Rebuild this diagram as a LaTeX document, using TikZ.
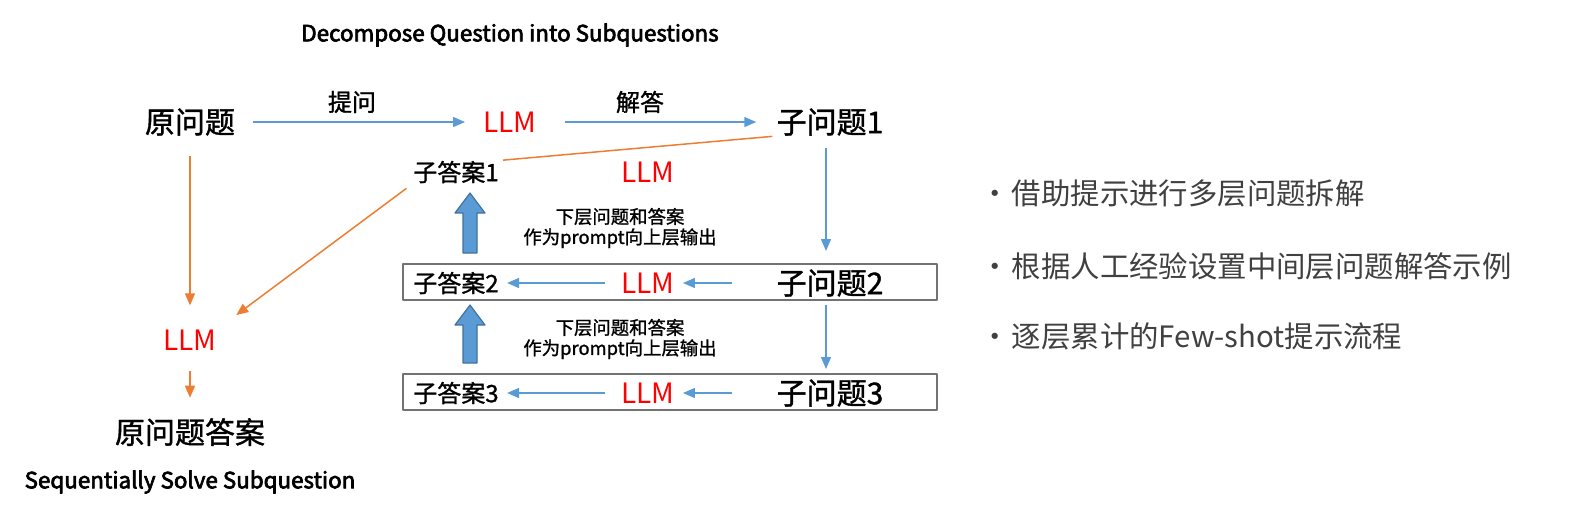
\documentclass[tikz,border=0pt]{standalone}
\usepackage{fontspec}
\setmainfont{Noto Sans CJK SC}
\newfontfamily\heavyfont[FakeBold=1.2]{Noto Sans CJK SC}
\newfontfamily\headfont[FakeBold=3]{Noto Sans CJK SC}
\usetikzlibrary{arrows.meta,calc}
\definecolor{llmred}{RGB}{255,0,0}
\definecolor{flowblue}{RGB}{91,155,213}
\definecolor{floworange}{RGB}{237,125,49}
\definecolor{blockedge}{RGB}{65,113,156}
\definecolor{tipgray}{RGB}{64,64,64}
\newcommand{\fsz}[1]{\fontsize{#1}{#1}\selectfont}
% fat arrow pointing up: x, bottom y, top y
\newcommand{\upblock}[3]{%
  \filldraw[fill=flowblue,draw=blockedge,line width=0.6pt]
    (#1-7,#2) -- (#1-7,#3+20) -- (#1-15,#3+20) -- (#1,#3)
    -- (#1+15,#3+20) -- (#1+7,#3+20) -- (#1+7,#2) -- cycle;}

\begin{document}
\begin{tikzpicture}[x=0.5pt,y=-0.5pt,line join=round,
  >={Triangle[length=6pt,width=5pt]},
  txt/.style={inner sep=0pt,text=black},
  big/.style={txt,font=\heavyfont\fsz{15}},
  mid/.style={txt,font=\heavyfont\fsz{12}},
  llm/.style={txt,font=\fsz{14},text=llmred},
  heading/.style={txt,font=\headfont\fsz{11.2}},
  note/.style={txt,font=\heavyfont\fsz{9.2},align=center},
  tip/.style={txt,anchor=west,font=\fsz{14.7},text=tipgray},
  barrow/.style={->,flowblue,line width=0.75pt},
  oarrow/.style={->,floworange,line width=0.75pt},
  boxline/.style={draw=black!55,line width=0.6pt}]
  \useasboundingbox (0,0) rectangle (1576,511);

  \node[heading] (ttl) at (510,35) {Decompose Question into Subquestions};
  \node[big] (q0) at (190,122) {原问题};
  \node[llm] (l0) at (510,122) {LLM};
  \node[big] (q1) at (830,122) {子问题1};
  \node[mid] (ask) at (352,102) {提问};
  \node[mid] (solve) at (640,102) {解答};
  \draw[barrow,shorten <=9pt,shorten >=9pt] (q0) -- (l0);
  \draw[barrow,shorten <=14pt,shorten >=10pt] (l0) -- (q1);

  \node[mid] (a1) at (456,172) {子答案1};
  \node[llm] (l1) at (648,172) {LLM};

  \foreach \i/\y in {2/283,3/393}{
    \node[mid] (a\i) at (456,\y) {子答案\i};
    \node[llm] (l\i) at (648,\y) {LLM};
    \node[big] (q\i) at (830,\y) {子问题\i};
    \draw[boxline] (403,\y-19) rectangle (937,\y+17);
    \draw[barrow,shorten <=22pt,shorten >=4pt] (q\i) -- (l\i);
    \draw[barrow,shorten <=8pt,shorten >=4pt] (l\i) -- (a\i);
  }

  % down the sub-question chain
  \draw[barrow,shorten <=6pt,shorten >=9pt] ($(q1.south)+(-4,0)$) -- ($(q2.north)+(-4,0)$);
  \draw[barrow,shorten <=4pt,shorten >=5pt] ($(q2.south)+(-4,0)$) -- ($(q3.north)+(-4,0)$);

  % answers fed upward
  \upblock{470}{253}{193}
  \upblock{470}{363}{305}
  \node[note] (p1) at (620,228) {下层问题和答案\\[1pt]作为prompt向上层输出};
  \node[note] (p2) at (620,339) {下层问题和答案\\[1pt]作为prompt向上层输出};

  % final answer
  \node[llm] (lf) at (190,340) {LLM};
  \node[big] (ans) at (190,432) {原问题答案};
  \node[heading] (seq) at (190,482) {Sequentially Solve Subquestion};
  \draw[floworange,line width=0.75pt,shorten <=2pt,shorten >=2pt] (q1.south west) -- (a1.north east);
  \draw[oarrow,shorten <=10pt,shorten >=12pt] (q0.south) -- (lf.north);
  \draw[oarrow,shorten <=4pt,shorten >=12pt] (a1.south west) -- (lf.north east);
  \draw[oarrow,shorten <=10pt,shorten >=10pt] (lf.south) -- (ans.north);

  % key points
  \node[tip] (t1) at (980,193) {·\kern1pt 借助提示进行多层问题拆解};
  \node[tip] (t2) at (980,266) {·\kern1pt 根据人工经验设置中间层问题解答示例};
  \node[tip] (t3) at (980,336) {·\kern1pt 逐层累计的Few-shot提示流程};
\end{tikzpicture}
\end{document}
